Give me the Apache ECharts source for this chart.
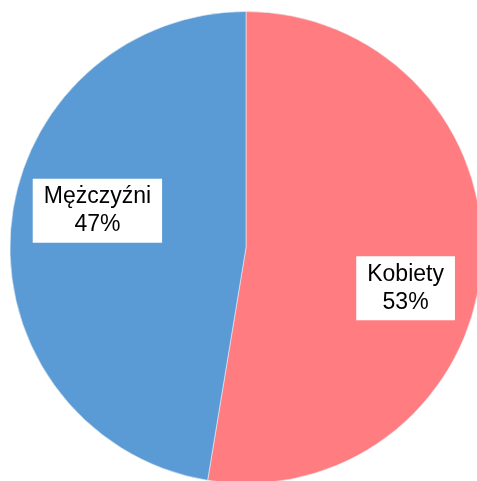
<!DOCTYPE html>
<html>
<head>
<meta charset="utf-8">
<script src="https://cdn.jsdelivr.net/npm/echarts@6/dist/echarts.min.js"></script>
<style>
  html, body { margin: 0; padding: 0; background: #fff; }
  #chart { width: 477px; height: 481px; }
</style>
</head>
<body>
<div id="chart"></div>
<script>
  // dane
  const categories = ["Kobiety", "Mężczyźni"];
  const values = [52.6, 47.4];
  const colors = ["#FF7C80", "#5B9BD5"];
  // przesunięcie etykiet względem środka wycinka
  const labelOffsets = [[39, 31], [-28, -27]];

  const myChart = echarts.init(document.getElementById("chart"));

  const option = {
    animation: false,
    series: [
      {
        type: "pie",
        center: [246, 247.5],
        radius: 236,
        startAngle: 90,
        clockwise: true,
        itemStyle: {
          borderColor: "#e8eef5",
          borderWidth: 0.6,
        },
        label: {
          show: true,
          position: "inside",
          formatter: (p) => p.name + "\n" + Math.round(p.percent) + "%",
          fontFamily: "Liberation Sans, Arial, sans-serif",
          fontSize: 23,
          lineHeight: 28,
          color: "#000",
          backgroundColor: "#fff",
          padding: [4, 11],
          align: "center",
        },
        labelLine: { show: false },
        emphasis: { disabled: true },
        data: categories.map((name, i) => ({
          name: name,
          value: values[i],
          itemStyle: { color: colors[i] },
          label: { offset: labelOffsets[i] },
        })),
      },
    ],
  };

  myChart.setOption(option);
</script>
</body>
</html>
